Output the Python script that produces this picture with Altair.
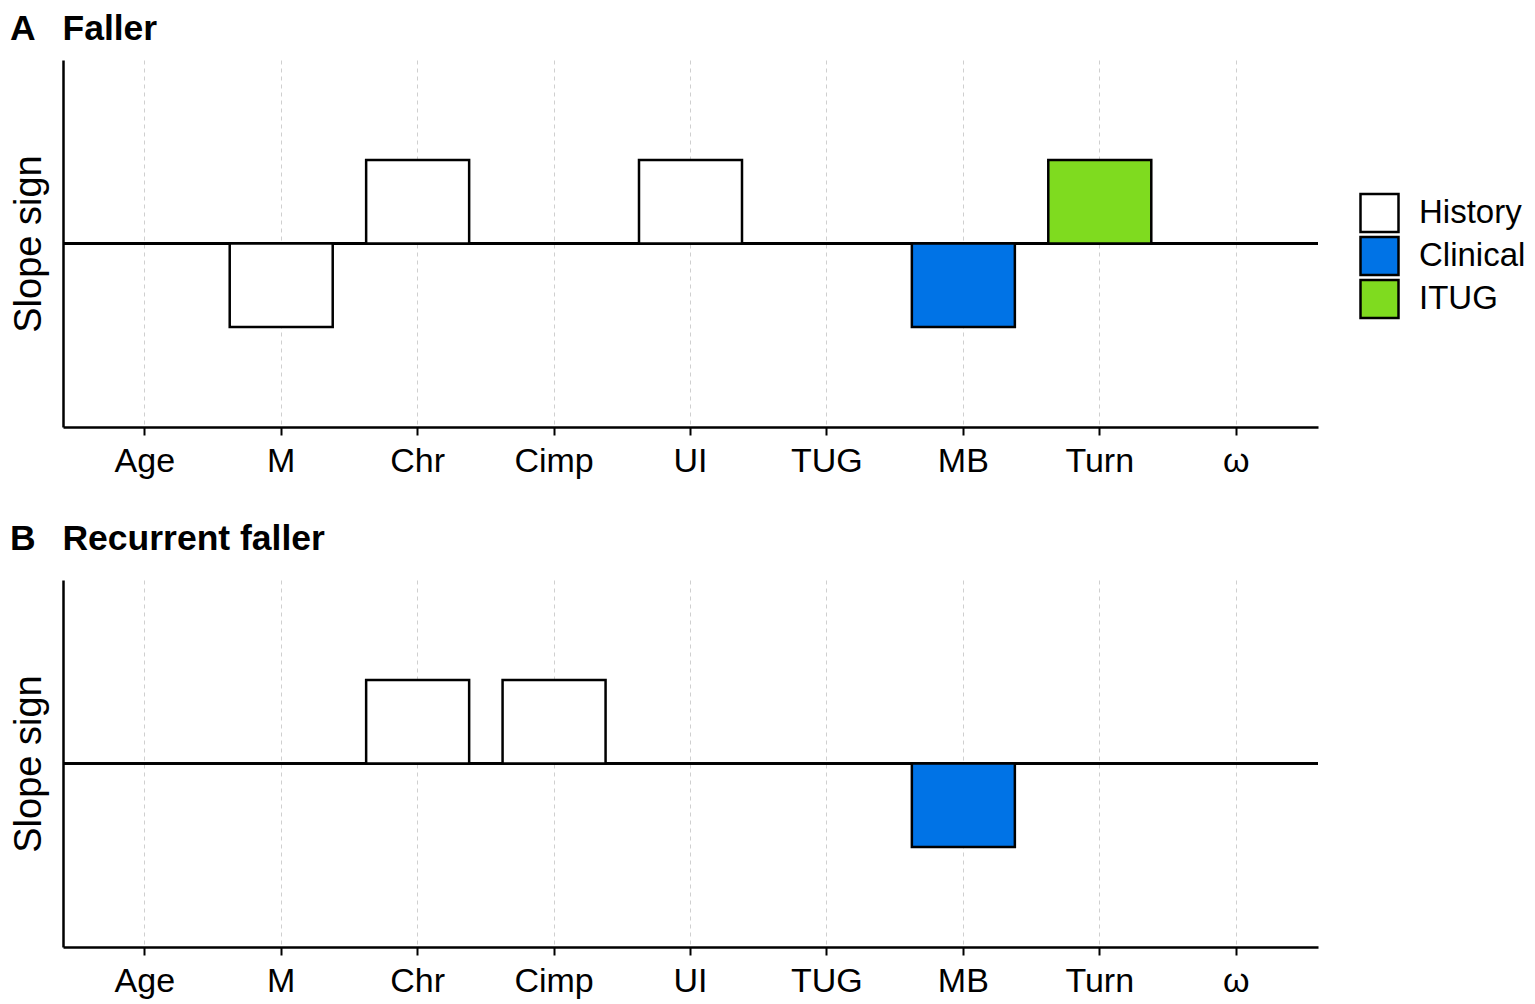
import altair as alt
import pandas as pd

categories = ["Age", "M", "Chr", "Cimp", "UI", "TUG", "MB", "Turn", "ω"]
groups = ["History", "Clinical", "ITUG"]
group_colors = ["#FFFFFF", "#0073E6", "#7FDB1F"]

faller_vars = ["M", "Chr", "UI", "MB", "Turn"]
faller_sign = [-1, 1, 1, -1, 1]
faller_group = ["History", "History", "History", "Clinical", "ITUG"]

recur_vars = ["Chr", "Cimp", "MB"]
recur_sign = [1, 1, -1]
recur_group = ["History", "History", "Clinical"]


def panel(vars_, signs, grps, title, title_offset):
    df = pd.DataFrame({"var": vars_, "sign": signs, "group": grps})
    x = alt.X("var:N", sort=categories, scale=alt.Scale(domain=categories, paddingInner=0.245, paddingOuter=0.222),
              axis=alt.Axis(title=None, labelAngle=0, labelFontSize=34, labelColor="black", labelPadding=9,
                            tickColor="black", tickWidth=2, tickSize=8, domainColor="black", domainWidth=2.5,
                            grid=True, gridColor="#cfcfcf", gridDash=[4, 4], gridWidth=1))
    bars = alt.Chart(df).mark_bar(stroke="black", strokeWidth=2.5).encode(
        x=x,
        y=alt.Y("sign:Q", scale=alt.Scale(domain=[-2.2, 2.2], nice=False),
                axis=alt.Axis(title="Slope sign", titleFontSize=38, titleFontWeight="normal", titleColor="black",
                              labels=False, ticks=False, grid=False, domainColor="black", domainWidth=2.5,
                              titlePadding=15)),
        color=alt.Color("group:N", scale=alt.Scale(domain=groups, range=group_colors),
                        legend=alt.Legend(title=None, orient="none", legendX=1296, legendY=132,
                                          symbolType="square", symbolSize=1444, symbolStrokeColor="black",
                                          symbolStrokeWidth=2.5, labelFontSize=33, labelColor="black",
                                          rowPadding=1, clipHeight=42, labelOffset=19)),
    )
    rule = alt.Chart(df).mark_rule(color="black", strokeWidth=2.5).encode(y=alt.datum(0))
    return alt.layer(rule, bars).properties(
        width=1255, height=367,
        title=alt.TitleParams(title, anchor="start", frame="bounds", fontSize=35.5, fontWeight="bold",
                              color="black", offset=title_offset),
    )


a = panel(faller_vars, faller_sign, faller_group, "A\u00a0\u00a0\u2009Faller", 13)
b = panel(recur_vars, recur_sign, recur_group, "B\u00a0\u00a0\u2009Recurrent faller", 23)

chart = alt.vconcat(a, b, spacing=43).configure(
    font="Liberation Sans",
    view=alt.ViewConfig(stroke="transparent", strokeWidth=0),
).properties(
    padding={"left": 2, "top": 3, "right": 0, "bottom": 4}
)
chart.save("out.html", embed_options={"renderer": "svg", "actions": False})
